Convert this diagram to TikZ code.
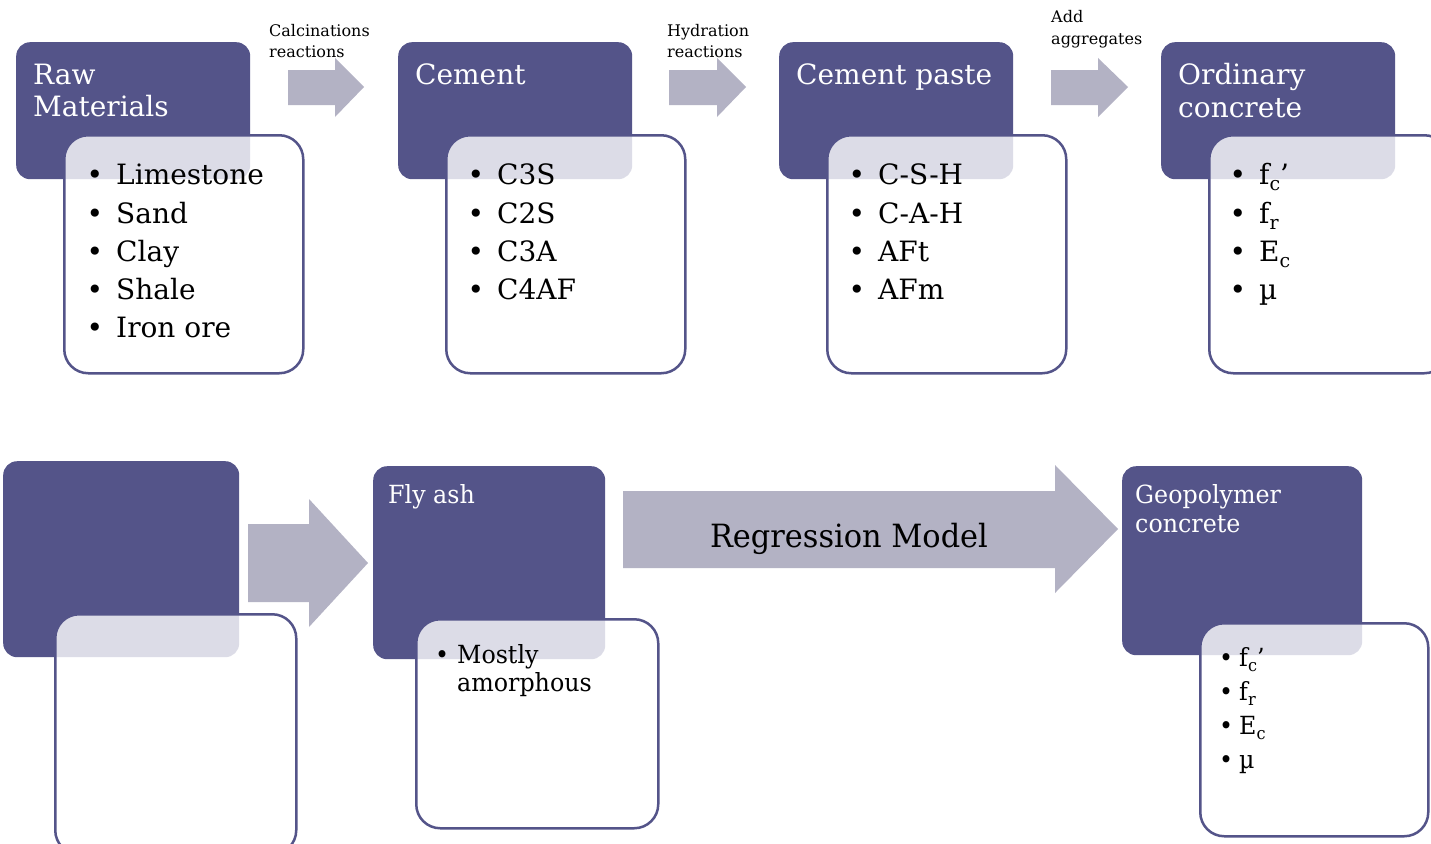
\documentclass[tikz,border=0pt]{standalone}
\usepackage{fontspec}
\setmainfont{DejaVu Serif}
\newfontfamily\condfont[FakeStretch=0.95]{DejaVu Serif}
\definecolor{boxpurple}{RGB}{84,84,137}
\definecolor{arrowgray}{RGB}{179,178,196}
\newcommand{\bul}{\llap{•\hspace{13pt}}}
\newcommand{\sbt}[1]{\raisebox{-6pt}{\fontsize{19}{19}\selectfont #1}}
\newcommand{\sbb}[1]{\raisebox{-5pt}{\fontsize{17}{17}\selectfont #1}}
\begin{document}
\begin{tikzpicture}[x=1pt,y=-1pt,
  titlebox/.style={fill=boxpurple, rounded corners=14pt, anchor=north west, inner sep=0pt},
  listbox/.style={draw=boxpurple, line width=2.5pt, fill=white, fill opacity=0.8, draw opacity=1, rounded corners=24pt, anchor=north west, inner sep=0pt},
  bigarrow/.style={fill=arrowgray},
  ttl/.style={anchor=base west, inner sep=0pt, text=white, font=\fontsize{28}{32}\selectfont},
  itm/.style={anchor=base west, inner sep=0pt, font=\fontsize{28}{32}\selectfont},
  lbl/.style={anchor=base west, inner sep=0pt, font=\fontsize{16}{20}\selectfont},
  bttl/.style={anchor=base west, inner sep=0pt, text=white, font=\condfont\fontsize{25}{29}\selectfont},
  bitm/.style={anchor=base west, inner sep=0pt, font=\condfont\fontsize{25}{29}\selectfont}]
\useasboundingbox (0,0) rectangle (1431,843);
\fill[white] (0,0) rectangle (1431,843);
% ---------- top row boxes
\node[titlebox, minimum width=234pt, minimum height=137pt] (rawT) at (16,42) {};
\node[listbox, minimum width=239pt, minimum height=238pt] (rawL) at (63,134) {};
\node[titlebox, minimum width=234pt, minimum height=137pt] (cemT) at (398,42) {};
\node[listbox, minimum width=239pt, minimum height=238pt] (cemL) at (445,134) {};
\node[titlebox, minimum width=234pt, minimum height=137pt] (pasT) at (779,42) {};
\node[listbox, minimum width=239pt, minimum height=238pt] (pasL) at (826,134) {};
\node[titlebox, minimum width=234pt, minimum height=137pt] (ordT) at (1161,42) {};
\node[listbox, minimum width=239pt, minimum height=238pt] (ordL) at (1208,134) {};
% ---------- top row arrows
\fill[bigarrow] (288,70) -- (335,70) -- (335,58) -- (364,87) -- (335,117) -- (335,105) -- (288,105) -- cycle;
\fill[bigarrow] (669,70) -- (717,70) -- (717,58) -- (746,87) -- (717,117) -- (717,105) -- (669,105) -- cycle;
\fill[bigarrow] (1051,70) -- (1098,70) -- (1098,58) -- (1128,87) -- (1098,117) -- (1098,105) -- (1051,105) -- cycle;
% ---------- bottom row boxes
\node[titlebox, minimum width=236pt, minimum height=196pt] (blkT) at (3,461) {};
\node[listbox, minimum width=241pt, minimum height=240pt] (blkL) at (54,613) {};
\node[titlebox, minimum width=232pt, minimum height=193pt] (flyT) at (373,466) {};
\node[listbox, minimum width=242pt, minimum height=209pt] (flyL) at (415,618) {};
\node[titlebox, minimum width=240pt, minimum height=189pt] (geoT) at (1122,466) {};
\node[listbox, minimum width=228pt, minimum height=213pt] (geoL) at (1199,622) {};
% ---------- bottom row arrows
\fill[bigarrow] (248,524) -- (309,524) -- (309,499) -- (368,563) -- (309,627) -- (309,602) -- (248,602) -- cycle;
\fill[bigarrow] (623,491) -- (1055,491) -- (1055,465) -- (1118,529) -- (1055,593) -- (1055,568) -- (623,568) -- cycle;
% ---------- arrow labels
\node[lbl] (calc1) at (269,37) {Calcinations};
\node[lbl] (calc2) at (269,57) {reactions};
\node[lbl] (hyd1) at (667,37) {Hydration};
\node[lbl] (hyd2) at (667,57) {reactions};
\node[lbl] (add1) at (1051,23) {Add};
\node[lbl] (add2) at (1051,45) {aggregates};
% ---------- titles
\node[ttl] (t1a) at (33,84) {Raw};
\node[ttl] (t1b) at (33,116) {Materials};
\node[ttl] (t2) at (415,84) {Cement};
\node[ttl] (t3) at (796,84) {Cement paste};
\node[ttl] (t4a) at (1178,84) {Ordinary};
\node[ttl] (t4b) at (1178,117) {concrete};
% ---------- items
\node[itm] (r1) at (116,184) {\bul Limestone};
\node[itm] (r2) at (116,223) {\bul Sand};
\node[itm] (r3) at (116,261) {\bul Clay};
\node[itm] (r4) at (116,299) {\bul Shale};
\node[itm] (r5) at (116,337) {\bul Iron ore};
\node[itm] (c1) at (497,184) {\bul C3S};
\node[itm] (c2) at (497,223) {\bul C2S};
\node[itm] (c3) at (497,261) {\bul C3A};
\node[itm] (c4) at (497,299) {\bul C4AF};
\node[itm] (p1) at (878,184) {\bul C-S-H};
\node[itm] (p2) at (878,223) {\bul C-A-H};
\node[itm] (p3) at (878,261) {\bul AFt};
\node[itm] (p4) at (878,299) {\bul AFm};
\node[itm] (o1) at (1259,184) {\bul f\sbt{c}’};
\node[itm] (o2) at (1259,223) {\bul f\sbt{r}};
\node[itm] (o3) at (1259,261) {\bul E\sbt{c}};
\node[itm] (o4) at (1259,299) {\bul µ};
% ---------- bottom texts
\node[bttl] (fa) at (388,503) {Fly ash};
\node[bitm] (fa1) at (457,663) {\llap{•\hspace{8pt}}Mostly};
\node[bitm] (fa2) at (457,691) {amorphous};
\node[anchor=base, inner sep=0pt, font=\condfont\fontsize{32}{36}\selectfont] (reg) at (849,547) {Regression Model};
\node[bttl] (g1) at (1135,503) {Geopolymer};
\node[bttl] (g2) at (1135,532) {concrete};
\node[bitm] (g3) at (1239,666) {\llap{•\hspace{6pt}}f\sbb{c}’};
\node[bitm] (g4) at (1239,700) {\llap{•\hspace{6pt}}f\sbb{r}};
\node[bitm] (g5) at (1239,734) {\llap{•\hspace{6pt}}E\sbb{c}};
\node[bitm] (g6) at (1239,768) {\llap{•\hspace{6pt}}µ};
\end{tikzpicture}
\end{document}
